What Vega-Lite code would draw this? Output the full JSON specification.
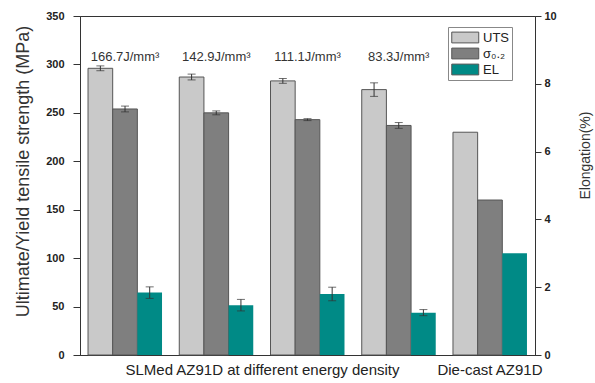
{
  "$schema": "https://vega.github.io/schema/vega-lite/v6.json",
  "width": 455,
  "height": 339,
  "autosize": {"type": "none"},
  "padding": {"left": 80, "top": 16, "right": 60, "bottom": 28},
  "background": "white",
  "config": {
    "font": "Liberation Sans",
    "view": {"stroke": "#333", "strokeWidth": 1},
    "axis": {"grid": false, "domainColor": "#333", "tickColor": "#333"},
    "axisRight": {
      "titleAngle": 270,
      "titleAlign": "center",
      "titleBaseline": "middle",
      "titleX": 50,
      "titleY": 139,
      "titleFontSize": 14,
      "titleFontWeight": "normal",
      "titleColor": "#333"
    }
  },
  "data": {
    "values": [
      {"group": "166.7J/mm³", "series": "UTS", "value": 296, "lo": 293.5, "hi": 298.5},
      {"group": "166.7J/mm³", "series": "σ₀.₂", "value": 254, "lo": 251, "hi": 257},
      {"group": "166.7J/mm³", "series": "EL", "value": 1.84, "lo": 1.67, "hi": 2.01},
      {"group": "142.9J/mm³", "series": "UTS", "value": 287, "lo": 284, "hi": 290},
      {"group": "142.9J/mm³", "series": "σ₀.₂", "value": 250, "lo": 248, "hi": 252},
      {"group": "142.9J/mm³", "series": "EL", "value": 1.47, "lo": 1.3, "hi": 1.64},
      {"group": "111.1J/mm³", "series": "UTS", "value": 283, "lo": 280.5, "hi": 285.5},
      {"group": "111.1J/mm³", "series": "σ₀.₂", "value": 243, "lo": 242, "hi": 244},
      {"group": "111.1J/mm³", "series": "EL", "value": 1.8, "lo": 1.6, "hi": 2.0},
      {"group": "83.3J/mm³", "series": "UTS", "value": 274, "lo": 267, "hi": 281},
      {"group": "83.3J/mm³", "series": "σ₀.₂", "value": 237, "lo": 234, "hi": 240},
      {"group": "83.3J/mm³", "series": "EL", "value": 1.25, "lo": 1.16, "hi": 1.34},
      {"group": "Die-cast AZ91D", "series": "UTS", "value": 230},
      {"group": "Die-cast AZ91D", "series": "σ₀.₂", "value": 160},
      {"group": "Die-cast AZ91D", "series": "EL", "value": 3.0}
    ]
  },
  "encoding": {
    "x": {
      "field": "group",
      "type": "nominal",
      "sort": null,
      "scale": {
        "domain": ["166.7J/mm³", "142.9J/mm³", "111.1J/mm³", "83.3J/mm³", "Die-cast AZ91D"],
        "paddingInner": 0.189,
        "paddingOuter": 0.088
      },
      "axis": {
        "title": "SLMed AZ91D at different energy density",
        "titleX": 182,
        "titleY": 7,
        "titleBaseline": "top",
        "titleFontSize": 15,
        "titleFontWeight": "normal",
        "titleColor": "#222",
        "labelExpr": "datum.label == 'Die-cast AZ91D' ? datum.label : ''",
        "labelAngle": 0,
        "labelFontSize": 15,
        "labelColor": "#222",
        "labelPadding": 7,
        "ticks": false,
        "domainColor": "#333"
      }
    }
  },
  "layer": [
    {
      "transform": [{"filter": "datum.series != 'EL'"}],
      "layer": [
        {
          "mark": {"type": "bar", "stroke": "#555", "strokeWidth": 1},
          "encoding": {
            "xOffset": {"field": "series", "type": "nominal", "scale": {"domain": ["UTS", "σ₀.₂", "EL"], "paddingInner": 0, "paddingOuter": 0}},
            "y": {
              "field": "value",
              "type": "quantitative",
              "scale": {"domain": [0, 350], "nice": false},
              "axis": {
                "title": "Ultimate/Yield tensile strength (MPa)",
                "values": [0, 25, 50, 75, 100, 125, 150, 175, 200, 225, 250, 275, 300, 325, 350],
                "labelExpr": "datum.value % 50 === 0 ? datum.label : ''",
                "tickSize": {"condition": {"test": "datum.value % 50 === 0", "value": 7}, "value": 4},
                "labelFontWeight": "bold",
                "labelFontSize": 11,
                "labelColor": "#222",
                "labelPadding": 9,
                "titleFontSize": 18,
                "titleFontWeight": "normal",
                "titleColor": "#333",
                "titleX": -57,
                "titleY": 155,
                "titleBaseline": "middle"
              }
            },
            "fill": {
              "field": "series",
              "type": "nominal",
              "scale": {"domain": ["UTS", "σ₀.₂", "EL"], "range": ["#c9c9c9", "#7f7f7f", "#008a86"]},
              "legend": {
                "title": null,
                "orient": "none",
                "legendX": 368,
                "legendY": 11,
                "symbolType": "M-1,-0.8H3V0.8H-1Z",
                "symbolSize": 182,
                "symbolStrokeColor": "#555",
                "symbolStrokeWidth": 1,
                "symbolOpacity": 1,
                "labelFontSize": 13,
                "labelColor": "#222",
                "labelOffset": 17,
                "strokeColor": "#888",
                "padding": 3,
                "rowPadding": 1
              }
            }
          }
        },
        {
          "transform": [{"filter": "datum.lo != null"}],
          "mark": {"type": "rule", "color": "#333", "strokeWidth": 1},
          "encoding": {
            "xOffset": {"field": "series", "type": "nominal", "scale": {"domain": ["UTS", "σ₀.₂", "EL"], "paddingInner": 0, "paddingOuter": 0}},
            "y": {"field": "lo", "type": "quantitative", "scale": {"domain": [0, 350], "nice": false}},
            "y2": {"field": "hi"}
          }
        },
        {
          "transform": [{"filter": "datum.lo != null"}],
          "mark": {"type": "tick", "color": "#333", "size": 8, "thickness": 1},
          "encoding": {
            "xOffset": {"field": "series", "type": "nominal", "scale": {"domain": ["UTS", "σ₀.₂", "EL"], "paddingInner": 0, "paddingOuter": 0}},
            "y": {"field": "lo", "type": "quantitative", "scale": {"domain": [0, 350], "nice": false}}
          }
        },
        {
          "transform": [{"filter": "datum.lo != null"}],
          "mark": {"type": "tick", "color": "#333", "size": 8, "thickness": 1},
          "encoding": {
            "xOffset": {"field": "series", "type": "nominal", "scale": {"domain": ["UTS", "σ₀.₂", "EL"], "paddingInner": 0, "paddingOuter": 0}},
            "y": {"field": "hi", "type": "quantitative", "scale": {"domain": [0, 350], "nice": false}}
          }
        },
        {
          "transform": [{"filter": "datum.series == 'UTS' && datum.group != 'Die-cast AZ91D'"}],
          "mark": {"type": "text", "fontSize": 13, "color": "#333", "baseline": "middle", "align": "center"},
          "encoding": {
            "y": {"datum": 308, "type": "quantitative", "scale": {"domain": [0, 350], "nice": false}},
            "text": {"field": "group"}
          }
        }
      ]
    },
    {
      "transform": [{"filter": "datum.series == 'EL'"}],
      "layer": [
        {
          "mark": {"type": "bar"},
          "encoding": {
            "xOffset": {"field": "series", "type": "nominal", "scale": {"domain": ["UTS", "σ₀.₂", "EL"], "paddingInner": 0, "paddingOuter": 0}},
            "y": {
              "field": "value",
              "type": "quantitative",
              "scale": {"domain": [0, 10], "nice": false},
              "axis": {
                "orient": "right",
                "title": "Elongation(%)",
                "values": [0, 1, 2, 3, 4, 5, 6, 7, 8, 9, 10],
                "labelExpr": "datum.value % 2 === 0 ? datum.label : ''",
                "tickSize": {"condition": {"test": "datum.value % 2 === 0", "value": 6}, "value": 4},
                "labelFontWeight": "bold",
                "labelFontSize": 11,
                "labelColor": "#222",
                "labelPadding": 3
              }
            },
            "fill": {
              "field": "series",
              "type": "nominal",
              "scale": {"domain": ["UTS", "σ₀.₂", "EL"], "range": ["#c9c9c9", "#7f7f7f", "#008a86"]},
              "legend": null
            }
          }
        },
        {
          "transform": [{"filter": "datum.lo != null"}],
          "mark": {"type": "rule", "color": "#333", "strokeWidth": 1},
          "encoding": {
            "xOffset": {"field": "series", "type": "nominal", "scale": {"domain": ["UTS", "σ₀.₂", "EL"], "paddingInner": 0, "paddingOuter": 0}},
            "y": {"field": "lo", "type": "quantitative", "scale": {"domain": [0, 10], "nice": false}},
            "y2": {"field": "hi"}
          }
        },
        {
          "transform": [{"filter": "datum.lo != null"}],
          "mark": {"type": "tick", "color": "#333", "size": 8, "thickness": 1},
          "encoding": {
            "xOffset": {"field": "series", "type": "nominal", "scale": {"domain": ["UTS", "σ₀.₂", "EL"], "paddingInner": 0, "paddingOuter": 0}},
            "y": {"field": "lo", "type": "quantitative", "scale": {"domain": [0, 10], "nice": false}}
          }
        },
        {
          "transform": [{"filter": "datum.lo != null"}],
          "mark": {"type": "tick", "color": "#333", "size": 8, "thickness": 1},
          "encoding": {
            "xOffset": {"field": "series", "type": "nominal", "scale": {"domain": ["UTS", "σ₀.₂", "EL"], "paddingInner": 0, "paddingOuter": 0}},
            "y": {"field": "hi", "type": "quantitative", "scale": {"domain": [0, 10], "nice": false}}
          }
        }
      ]
    }
  ],
  "resolve": {"scale": {"y": "independent"}}
}
